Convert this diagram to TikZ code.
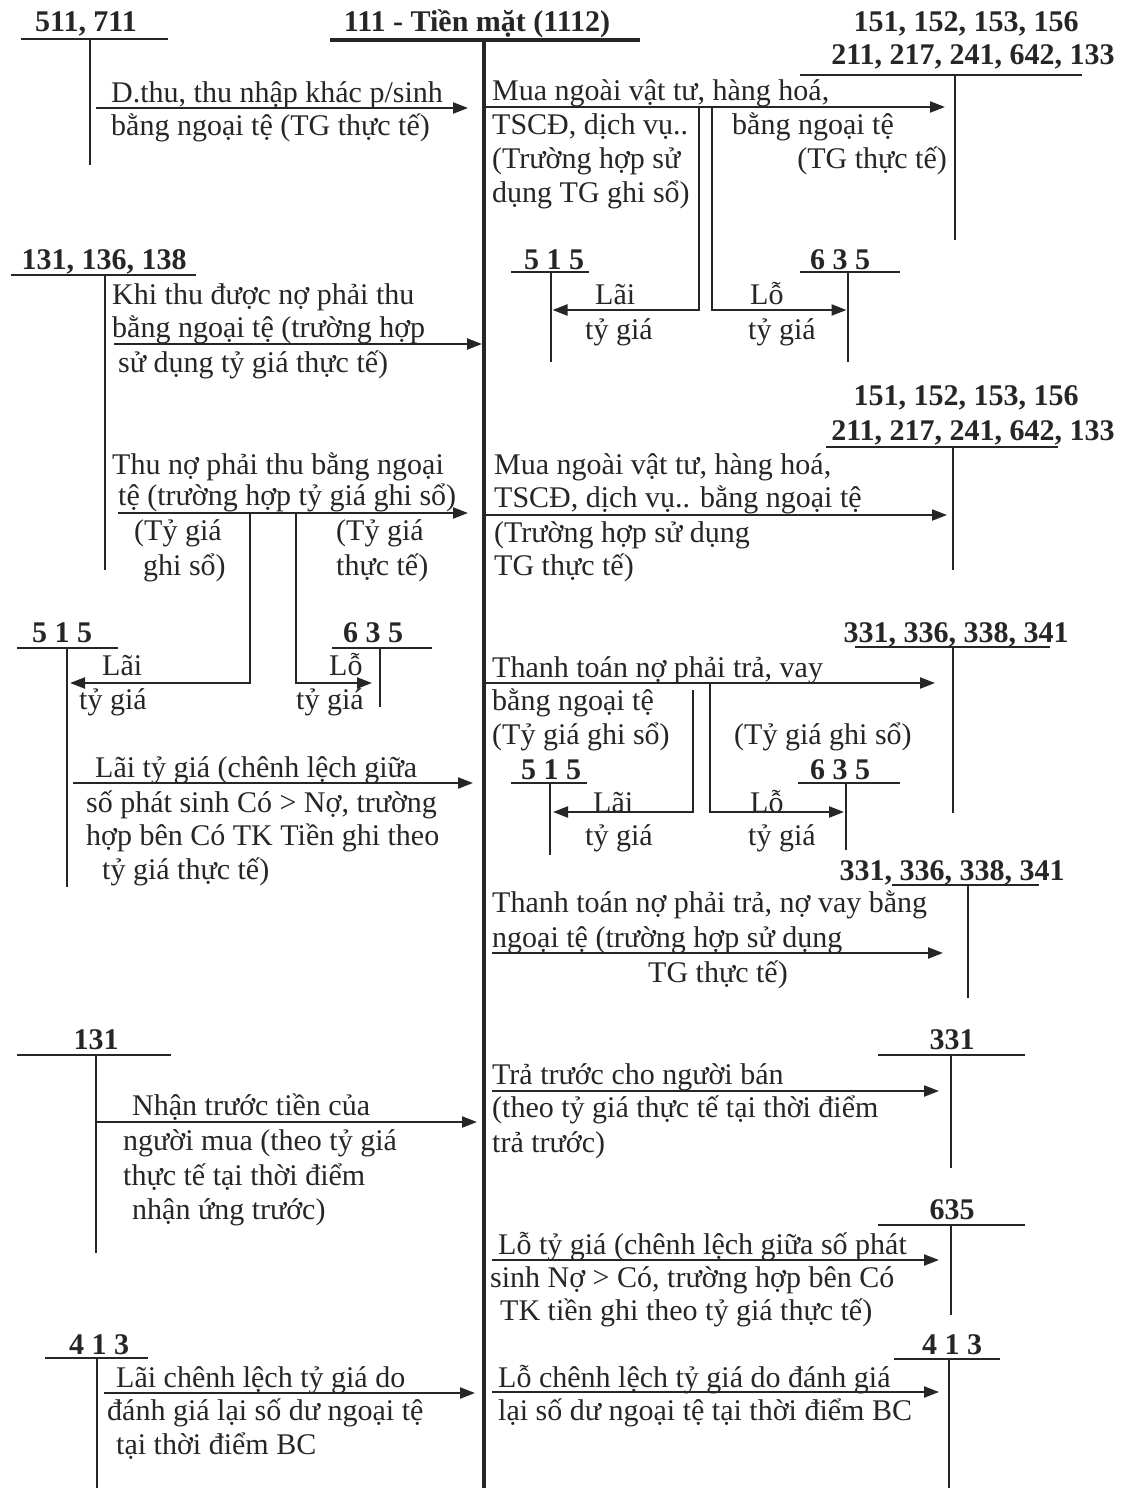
\documentclass[tikz,border=0pt]{standalone}
\usepackage{fontspec}
\setmainfont{Liberation Serif}
\usetikzlibrary{arrows.meta}
\definecolor{ink}{gray}{0.15}
\tikzset{
  txt/.style={anchor=west,inner sep=0pt,text height=21pt,text depth=7pt,text=ink,font=\fontsize{30}{34}\selectfont},
  txte/.style={txt,anchor=east},
  lbl/.style={inner sep=0pt,text height=21pt,text depth=7pt,text=ink,font=\fontsize{30}{34}\selectfont\bfseries},
  tline/.style={draw=ink,line width=2.4pt},
  mline/.style={draw=ink,line width=4pt},
  arr/.style={draw=ink,line width=2.2pt,-{Triangle[length=15pt,width=11pt]}},
}
% T-account: name, label, lx, ly, ux1, ux2, uy, vx, vy2
\newcommand\tacct[9]{%
  \node[lbl] (#1) at (#3,#4) {#2};
  \draw[tline] (#5,#7) -- (#6,#7);
  \draw[tline] (#8,#7) -- (#8,#9);}
\newcommand\tx[4]{\node[txt] (#1) at (#2,#3) {#4};}
\newcommand\arrw[4]{%
  \coordinate (#1s) at (#2,#4);
  \coordinate (#1e) at (#3,#4);
  \draw[arr] (#1s) -- (#1e);}
\begin{document}
\begin{tikzpicture}[x=1pt,y=-1pt]
\useasboundingbox[fill=white] (0,0) rectangle (1123,1488);

% main account 111
\node[lbl] (main) at (477,25) {111 - Tiền mặt (1112)};
\draw[mline] (330,40) -- (640,40);
\draw[mline] (484,40) -- (484,1488);

% ---------- row 1
\tacct{t511}{511, 711}{86}{25}{21}{168}{39}{90}{165}
\arrw{a1}{96}{468}{108}
\tx{n1a}{111}{95}{D.thu, thu nhập khác p/sinh}
\tx{n1b}{111}{128}{bằng ngoại tệ (TG thực tế)}

\node[lbl] (t151a) at (966,25) {151, 152, 153, 156};
\node[lbl] (t211a) at (973,58) {211, 217, 241, 642, 133};
\draw[tline] (800,75) -- (1082,75);
\draw[tline] (955,75) -- (955,240);
\arrw{a2}{486}{945}{107}
\tx{n2a}{492}{93}{Mua ngoài vật tư, hàng hoá,}
\tx{n2b}{492}{127}{TSCĐ, dịch vụ..}
\tx{n2c}{492}{161}{(Trường hợp sử}
\tx{n2d}{492}{195}{dụng TG ghi sổ)}
\tx{n2e}{732}{127}{bằng ngoại tệ}
\node[txte] (n2f) at (947,161) {(TG thực tế)};

\tacct{t515a}{5 1 5}{554}{262}{511}{589}{272}{551}{362}
\tacct{t635a}{6 3 5}{840}{262}{800}{900}{272}{848}{362}
\coordinate (b1a) at (699,107);
\coordinate (b1b) at (699,310);
\coordinate (b1c) at (551,310);
\coordinate (b2a) at (712,107);
\coordinate (b2b) at (712,310);
\coordinate (b2c) at (848,310);
\draw[arr] (b1a) -- (b1b) -- ([xshift=1.5pt]b1c);
\draw[arr] (b2a) -- (b2b) -- ([xshift=-1.5pt]b2c);
\tx{n3a}{595}{297}{Lãi}
\tx{n3b}{585}{332}{tỷ giá}
\tx{n3c}{750}{297}{Lỗ}
\tx{n3d}{748}{332}{tỷ giá}

% ---------- row 2 (131,136,138)
\tacct{t131a}{131, 136, 138}{104}{262}{11}{196}{275}{105}{570}
\arrw{a3}{114}{482}{344}
\tx{n4a}{112}{297}{Khi thu được nợ phải thu}
\tx{n4b}{112}{330}{bằng ngoại tệ (trường hợp}
\tx{n4c}{118}{365}{sử dụng tỷ giá thực tế)}

\arrw{a4}{118}{468}{513}
\tx{n5a}{112}{467}{Thu nợ phải thu bằng ngoại}
\tx{n5b}{118}{498}{tệ (trường hợp tỷ giá ghi sổ)}
\tx{n5c}{134}{533}{(Tỷ giá}
\tx{n5d}{143}{568}{ghi sổ)}
\tx{n5e}{336}{533}{(Tỷ giá}
\tx{n5f}{336}{568}{thực tế)}

\tacct{t515b}{5 1 5}{62}{635}{17}{118}{648}{67}{887}
\tacct{t635b}{6 3 5}{373}{635}{332}{432}{648}{380}{707}
\coordinate (b3a) at (250,513);
\coordinate (b3b) at (250,683);
\coordinate (b3c) at (67,683);
\coordinate (b4a) at (296,513);
\coordinate (b4b) at (296,683);
\coordinate (b4c) at (380,683);
\draw[arr] (b3a) -- (b3b) -- ([xshift=3pt]b3c);
\draw[arr] (b4a) -- (b4b) -- ([xshift=-8pt]b4c);
\tx{n6a}{102}{668}{Lãi}
\tx{n6b}{79}{702}{tỷ giá}
\tx{n6c}{329}{668}{Lỗ}
\tx{n6d}{296}{702}{tỷ giá}

\arrw{a5}{73}{473}{783}
\tx{n7a}{95}{770}{Lãi tỷ giá (chênh lệch giữa}
\tx{n7b}{86}{805}{số phát sinh Có > Nợ, trường}
\tx{n7c}{86}{838}{hợp bên Có TK Tiền ghi theo}
\tx{n7d}{102}{872}{tỷ giá thực tế)}

% ---------- right middle
\node[lbl] (t151b) at (966,398) {151, 152, 153, 156};
\node[lbl] (t211b) at (973,433) {211, 217, 241, 642, 133};
\draw[tline] (826,447) -- (1058,447);
\draw[tline] (953,447) -- (953,570);
\arrw{a6}{486}{947}{515}
\tx{n8a}{494}{467}{Mua ngoài vật tư, hàng hoá,}
\tx{n8b}{494}{500}{TSCĐ, dịch vụ.. bằng ngoại tệ}
\tx{n8c}{494}{535}{(Trường hợp sử dụng}
\tx{n8d}{494}{568}{TG thực tế)}

\node[lbl] (t331a) at (956,635) {331, 336, 338, 341};
\draw[tline] (855,647) -- (1050,647);
\draw[tline] (953,647) -- (953,813);
\arrw{a7}{486}{935}{683}
\tx{n9a}{492}{670}{Thanh toán nợ phải trả, vay}
\tx{n9b}{492}{703}{bằng ngoại tệ}
\tx{n9c}{492}{737}{(Tỷ giá ghi sổ)}
\tx{n9d}{734}{737}{(Tỷ giá ghi sổ)}

\tacct{t515c}{5 1 5}{551}{772}{511}{587}{783}{550}{855}
\tacct{t635c}{6 3 5}{840}{772}{798}{900}{783}{846}{850}
\coordinate (b5a) at (693,690);
\coordinate (b5b) at (693,812);
\coordinate (b5c) at (550,812);
\coordinate (b6a) at (710,683);
\coordinate (b6b) at (710,812);
\coordinate (b6c) at (846,812);
\draw[arr] (b5a) -- (b5b) -- ([xshift=3pt]b5c);
\draw[arr] (b6a) -- (b6b) -- ([xshift=-2pt]b6c);
\tx{n10a}{593}{805}{Lãi}
\tx{n10b}{585}{838}{tỷ giá}
\tx{n10c}{750}{805}{Lỗ}
\tx{n10d}{748}{838}{tỷ giá}

\node[lbl] (t331b) at (952,873) {331, 336, 338, 341};
\draw[tline] (892,885) -- (1039,885);
\draw[tline] (968,885) -- (968,998);
\arrw{a8}{492}{943}{953}
\tx{n11a}{492}{905}{Thanh toán nợ phải trả, nợ vay bằng}
\tx{n11b}{492}{940}{ngoại tệ (trường hợp sử dụng}
\tx{n11c}{648}{975}{TG thực tế)}

% ---------- bottom left
\tacct{t131b}{131}{96}{1042}{17}{171}{1055}{96}{1253}
\arrw{a9}{96}{477}{1122}
\tx{n12a}{132}{1108}{Nhận trước tiền của}
\tx{n12b}{123}{1143}{người mua (theo tỷ giá}
\tx{n12c}{123}{1178}{thực tế tại thời điểm}
\tx{n12d}{132}{1212}{nhận ứng trước)}

\tacct{t413a}{4 1 3}{99}{1347}{45}{148}{1358}{97}{1488}
\arrw{a12}{104}{475}{1393}
\tx{n13a}{116}{1380}{Lãi chênh lệch tỷ giá do}
\tx{n13b}{107}{1413}{đánh giá lại số dư ngoại tệ}
\tx{n13c}{116}{1447}{tại thời điểm BC}

% ---------- bottom right
\tacct{t331c}{331}{952}{1042}{878}{1025}{1055}{951}{1168}
\arrw{a10}{492}{939}{1091}
\tx{n14a}{492}{1077}{Trả trước cho người bán}
\tx{n14b}{492}{1110}{(theo tỷ giá thực tế tại thời điểm}
\tx{n14c}{492}{1145}{trả trước)}

\tacct{t635d}{635}{952}{1212}{878}{1025}{1225}{951}{1315}
\arrw{a11}{492}{939}{1260}
\tx{n15a}{498}{1247}{Lỗ tỷ giá (chênh lệch giữa số phát}
\tx{n15b}{490}{1280}{sinh Nợ > Có, trường hợp bên Có}
\tx{n15c}{500}{1313}{TK tiền ghi theo tỷ giá thực tế)}

\tacct{t413b}{4 1 3}{952}{1347}{894}{1000}{1359}{949}{1488}
\arrw{a13}{492}{939}{1392}
\tx{n16a}{498}{1380}{Lỗ chênh lệch tỷ giá do đánh giá}
\tx{n16b}{498}{1413}{lại số dư ngoại tệ tại thời điểm BC}
\end{tikzpicture}
\end{document}
